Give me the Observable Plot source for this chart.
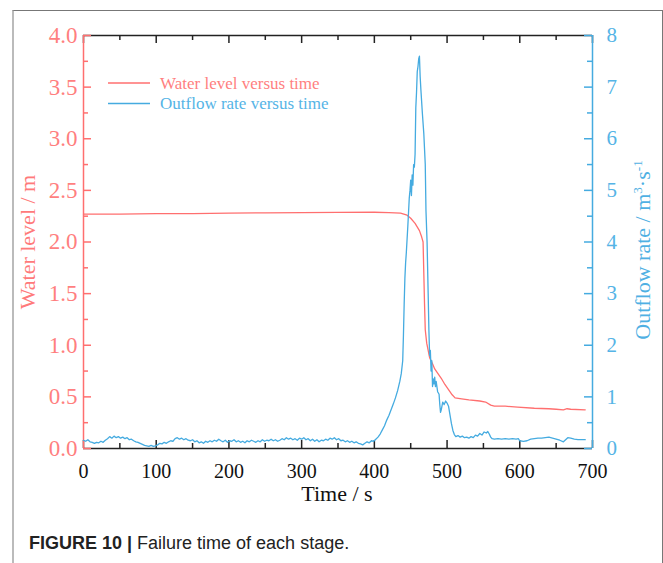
<!DOCTYPE html>
<html><head><meta charset="utf-8">
<script src="https://cdn.jsdelivr.net/npm/d3@7"></script>
<script src="https://cdn.jsdelivr.net/npm/@observablehq/plot@0.6"></script>
<style>
body{margin:0;background:#fff;}
#wrap{position:relative;width:663px;height:563px;overflow:hidden;background:#fff;}
.abs{position:absolute;}
#box{left:12px;top:10px;width:648px;height:600px;border-top:1px solid #777;border-right:1px solid #777;border-left:2px solid #bbb;}
.rot{transform:translate(-50%,-50%) rotate(-90deg);white-space:nowrap;}
</style></head><body>
<div id="wrap">
<div id="box" class="abs"></div>
<div id="p1" class="abs" style="left:0;top:0"></div>
<div id="p2" class="abs" style="left:0;top:0"></div>
<div id="legend" class="abs" style="left:0;top:0"></div>
<div class="abs rot" style="left:28px;top:242px;font-family:'Liberation Serif',serif;font-size:22px;color:#ff7a7a;">Water level / m</div>
<div class="abs rot" style="left:643px;top:250px;font-family:'Liberation Serif',serif;font-size:22px;color:#4fb0e3;">Outflow rate / m<sup style="font-size:0.6em">3</sup>·s<sup style="font-size:0.6em">-1</sup></div>
<div class="abs" style="left:337px;top:494px;transform:translate(-50%,-50%);font-family:'Liberation Serif',serif;font-size:22px;color:#111;white-space:nowrap;">Time / s</div>
<div class="abs" style="left:29px;top:543px;transform:translateY(-50%);font-family:'Liberation Sans',Arial,sans-serif;font-size:18px;color:#222;white-space:nowrap;"><b>FIGURE 10 |</b> Failure time of each stage.</div>
</div>
<script>
// ---- data ----
const levelTime = [0,50,100,150,200,250,300,350,400,420,436,445,450,456,462,465,467,468,469,470,472,476,480,483,487,492,497,502,507,511,520,530,545,553,560,565,580,597,620,640,650,660,665,670,690];
const levelValue = [2.27,2.27,2.275,2.275,2.28,2.283,2.285,2.287,2.288,2.285,2.28,2.26,2.23,2.18,2.11,2.05,2.0,1.7,1.4,1.15,1.02,0.88,0.82,0.77,0.73,0.68,0.62,0.57,0.52,0.49,0.48,0.47,0.46,0.45,0.42,0.41,0.41,0.40,0.39,0.385,0.38,0.375,0.385,0.38,0.375];

const flowTime = [0,3,6,9,12,15,18,21,24,27,30,33,36,39,42,45,48,51,54,57,60,63,66,69,72,75,78,81,84,87,90,93,96,99,102,105,108,111,114,117,120,123,126,129,132,135,138,141,144,147,150,153,156,159,162,165,168,171,174,177,180,183,186,189,192,195,198,201,204,207,210,213,216,219,222,225,228,231,234,237,240,243,246,249,252,255,258,261,264,267,270,273,276,279,282,285,288,291,294,297,300,303,306,309,312,315,318,321,324,327,330,333,336,339,342,345,348,351,354,357,360,363,366,369,372,375,378,381,384,387,390,393,396,399,402,405,408,411,414,417,420,423,426,429,432,435,437,439,440,441,442,443,444,446,448,449,450,451,452,453,454,455,456,457,458,459,460,461,462,463,464,466,468,470,471,472.5,474,475,476,477,478,479,480,481,482,483,484,485,487,489,490,491,492,494,496,498,500,502,504,506,508,510,512,515,518,521,524,527,530,533,536,539,542,545,548,551,554,556,558,560,562,565,570,575,580,585,590,595,598,600,605,610,615,620,625,630,635,640,645,650,655,660,663,666,670,675,680,685,690];
const flowValue = [0.16,0.14,0.17,0.13,0.12,0.10,0.12,0.11,0.14,0.12,0.16,0.19,0.23,0.20,0.24,0.21,0.23,0.20,0.22,0.19,0.21,0.17,0.18,0.15,0.13,0.12,0.10,0.08,0.06,0.05,0.04,0.06,0.04,0.05,0.07,0.10,0.09,0.12,0.10,0.13,0.15,0.14,0.19,0.21,0.18,0.20,0.17,0.19,0.16,0.15,0.17,0.13,0.15,0.11,0.13,0.10,0.14,0.12,0.15,0.13,0.16,0.14,0.18,0.15,0.13,0.16,0.12,0.15,0.14,0.17,0.13,0.15,0.12,0.14,0.11,0.15,0.13,0.16,0.14,0.12,0.15,0.13,0.17,0.14,0.16,0.15,0.18,0.15,0.17,0.14,0.16,0.19,0.17,0.21,0.18,0.20,0.17,0.19,0.16,0.20,0.18,0.21,0.17,0.19,0.15,0.18,0.14,0.17,0.13,0.16,0.15,0.18,0.16,0.20,0.18,0.21,0.17,0.19,0.15,0.16,0.13,0.15,0.12,0.14,0.11,0.13,0.10,0.09,0.07,0.10,0.13,0.11,0.15,0.14,0.18,0.22,0.28,0.36,0.44,0.55,0.64,0.75,0.86,0.98,1.12,1.30,1.45,1.70,2.2,2.8,3.3,3.6,3.8,4.3,4.85,5.0,5.2,4.9,5.3,5.1,5.5,5.45,5.7,6.6,6.9,7.3,7.4,7.55,7.6,7.2,6.95,6.5,6.1,5.5,4.6,4.0,3.0,2.3,1.8,1.9,1.5,1.7,1.2,1.35,1.25,1.38,1.2,1.3,1.1,1.05,0.85,0.7,0.75,0.9,0.85,0.92,0.88,0.82,0.65,0.48,0.35,0.27,0.23,0.25,0.22,0.24,0.21,0.22,0.20,0.23,0.21,0.26,0.24,0.29,0.26,0.32,0.30,0.33,0.28,0.22,0.19,0.18,0.19,0.18,0.19,0.18,0.19,0.18,0.19,0.15,0.14,0.15,0.18,0.19,0.20,0.20,0.21,0.22,0.20,0.18,0.16,0.13,0.17,0.21,0.20,0.18,0.17,0.17,0.17];

const timeTicks = [0,100,200,300,400,500,600,700];
const timeMinor = [50,150,250,350,450,550,650];
const levelTicks = [0,0.5,1,1.5,2,2.5,3,3.5,4];
const levelMinor = [0.25,0.75,1.25,1.75,2.25,2.75,3.25,3.75];
const flowTicks = [0,1,2,3,4,5,6,7,8];
const flowMinor = [0.5,1.5,2.5,3.5,4.5,5.5,6.5,7.5];
const seriesNames = ["Water level versus time","Outflow rate versus time"];

// ---- style ----
const RED = "#ff6f6f", RED_T = "#ff7f7f", BLUE = "#45abe0", BLUE_T = "#55b4e6", BLACK = "#222";
const W = 663, H = 520, ML = 83, MR = 71, MT = 35, MB = 72;
const FW = W - ML - MR, FH = H - MT - MB;
const FONT = "'Liberation Serif','Times New Roman',serif";

const level = levelTime.map((t, i) => ({t, v: levelValue[i]}));
const flow = flowTime.map((t, i) => ({t, q: flowValue[i]}));

const common = {width: W, height: H, marginLeft: ML, marginRight: MR, marginTop: MT, marginBottom: MB,
  style: {fontFamily: FONT, fontSize: "20px", background: "transparent", overflow: "visible"},
  x: {domain: [0, 700], axis: null}};

const p1 = Plot.plot({...common,
  y: {domain: [0, 4], axis: null},
  marks: [
    Plot.ruleY([0, 4], {stroke: BLACK, strokeWidth: 1.5}),
    Plot.tickX(timeTicks, {x: d => d, stroke: BLACK, strokeWidth: 1.5, insetTop: FH - 8}),
    Plot.tickX(timeMinor, {x: d => d, stroke: BLACK, strokeWidth: 1.5, insetTop: FH - 5}),
    Plot.tickX(timeTicks, {x: d => d, stroke: BLACK, strokeWidth: 1.5, insetBottom: FH - 8}),
    Plot.tickX(timeMinor, {x: d => d, stroke: BLACK, strokeWidth: 1.5, insetBottom: FH - 5}),
    Plot.line(level, {x: "t", y: "v", stroke: RED, strokeWidth: 1.3}),
    Plot.ruleX([0], {stroke: RED, strokeWidth: 1.5}),
    Plot.tickY(levelTicks, {y: d => d, stroke: RED, strokeWidth: 1.5, insetRight: FW - 8}),
    Plot.tickY(levelMinor, {y: d => d, stroke: RED, strokeWidth: 1.5, insetRight: FW - 5}),
    Plot.axisY({ticks: levelTicks, tickSize: 0, tickPadding: 6, tickFormat: d3.format(".1f"), color: RED_T, fontSize: "23px", label: null}),
    Plot.axisX({ticks: timeTicks, tickSize: 0, tickPadding: 15, color: "#111", fontSize: "20px", label: null})
  ]
});
document.getElementById("p1").append(p1);

const p2 = Plot.plot({...common,
  y: {domain: [0, 8], axis: null},
  marks: [
    Plot.line(flow, {x: "t", y: "q", stroke: BLUE, strokeWidth: 1.3}),
    Plot.ruleX([700], {stroke: BLUE, strokeWidth: 1.5}),
    Plot.tickY(flowTicks, {y: d => d, stroke: BLUE, strokeWidth: 1.5, insetLeft: FW - 8}),
    Plot.tickY(flowMinor, {y: d => d, stroke: BLUE, strokeWidth: 1.5, insetLeft: FW - 5}),
    Plot.axisY({anchor: "right", ticks: flowTicks, tickSize: 0, tickPadding: 14, tickFormat: d3.format("d"), color: BLUE_T, fontSize: "21px", label: null})
  ]
});
document.getElementById("p2").append(p2);

// legend
const lg = d3.select("#legend");
const colors = [RED, BLUE], textColors = [RED_T, BLUE_T];
const svg = lg.append("svg").attr("width", W).attr("height", 130);
seriesNames.forEach((name, i) => {
  const yy = 83 + i * 20.5;
  svg.append("line").attr("x1", 108).attr("x2", 150).attr("y1", yy).attr("y2", yy).attr("stroke", colors[i]).attr("stroke-width", 1.3);
  svg.append("text").attr("x", 160).attr("y", yy).attr("dy", "0.35em").attr("font-size", 17).attr("font-family", FONT).attr("fill", textColors[i]).text(name);
});
</script>
</body></html>
